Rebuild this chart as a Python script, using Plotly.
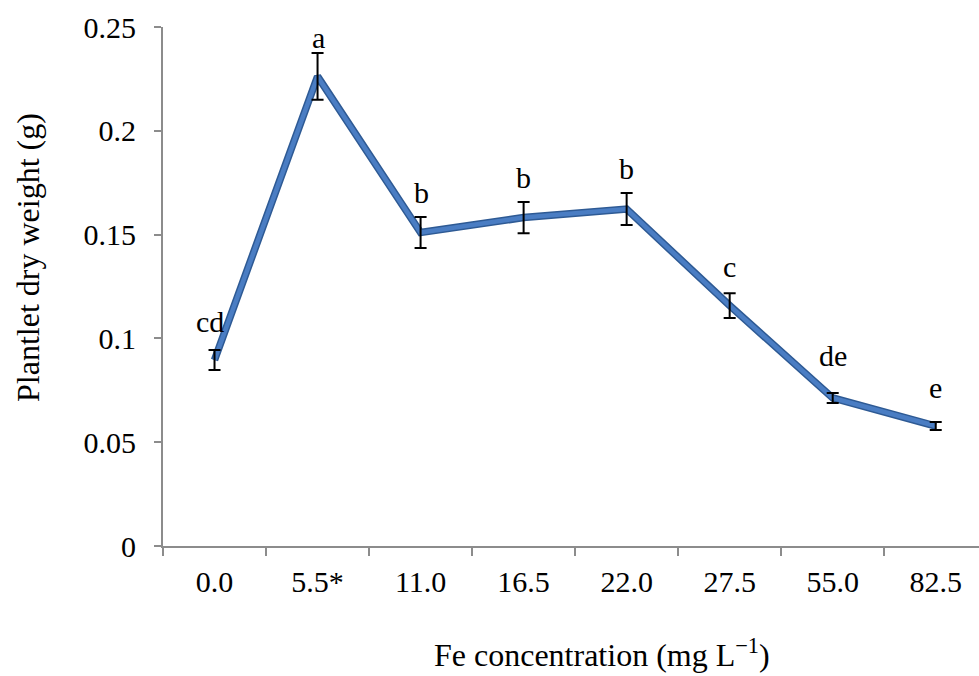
import plotly.graph_objects as go

categories = ["0.0", "5.5*", "11.0", "16.5", "22.0", "27.5", "55.0", "82.5"]
dry_weight = [0.0896, 0.2262, 0.1510, 0.1582, 0.1623, 0.1158, 0.0713, 0.0578]
std_err = [0.0048, 0.0113, 0.0075, 0.0075, 0.0077, 0.0060, 0.0024, 0.0019]
letters = ["cd", "a", "b", "b", "b", "c", "de", "e"]

# styling: pixel gap between error-bar cap and letter baseline
letter_gap_px = [18, 5, 14, 14, 14, 16, 27, 24]
letter_dx_px = [-5, 1, 1, 0, 0, 0, 0, 0]

FONT = "Liberation Serif, Times New Roman, serif"
AXIS_COLOR = "#8c8c8c"
FS = 30
TITLE_FS = 32
DESCENT = 8

fig = go.Figure()
fig.add_trace(go.Scatter(x=categories, y=dry_weight, mode="lines",
                         line=dict(color="#2E5A94", width=7.5), hoverinfo="skip",
                         showlegend=False))
fig.add_trace(go.Scatter(x=categories, y=dry_weight, mode="lines",
                         line=dict(color="#4A7DC3", width=4.5), showlegend=False))
fig.add_trace(go.Scatter(x=categories, y=dry_weight, mode="markers",
                         marker=dict(size=1, color="rgba(0,0,0,0)"),
                         error_y=dict(type="data", array=std_err, visible=True,
                                      color="black", thickness=2, width=6),
                         showlegend=False))

for i, (v, e, t) in enumerate(zip(dry_weight, std_err, letters)):
    fig.add_annotation(x=i, y=v + e, text=t, showarrow=False, yanchor="bottom",
                       xanchor="center", xshift=letter_dx_px[i],
                       yshift=letter_gap_px[i] - DESCENT,
                       font=dict(family=FONT, size=FS, color="black"))

fig.add_annotation(x=0.538, y=-0.2486, xref="paper", yref="paper",
                   xanchor="center", yanchor="bottom",
                   text="Fe concentration (mg L<sup>\u22121</sup>)", showarrow=False,
                   font=dict(family=FONT, size=TITLE_FS, color="black"))
fig.add_annotation(x=-0.1654, y=0.555, xref="paper", yref="paper",
                   xanchor="center", yanchor="middle",
                   text="Plantlet dry weight (g)", textangle=-90, showarrow=False,
                   font=dict(family=FONT, size=TITLE_FS, color="black"))

fig.update_layout(
    width=979, height=676,
    margin=dict(l=163, r=0, t=27, b=130),
    paper_bgcolor="white", plot_bgcolor="white",
    font=dict(family=FONT, size=FS, color="black"),
    xaxis=dict(type="category", range=[-0.5, 7.42], showgrid=False,
               showline=True, linecolor=AXIS_COLOR, linewidth=2,
               ticks="outside", tickson="boundaries", ticklen=8, tickwidth=2,
               tickcolor=AXIS_COLOR, ticklabelstandoff=8, zeroline=False),
    yaxis=dict(range=[0, 0.25], tickvals=[0, 0.05, 0.1, 0.15, 0.2, 0.25],
               ticktext=["0", "0.05", "0.1", "0.15", "0.2", "0.25"],
               showgrid=False, showline=True, linecolor=AXIS_COLOR, linewidth=2,
               ticks="outside", ticklen=7, tickwidth=2, tickcolor=AXIS_COLOR,
               ticklabelstandoff=12, zeroline=False),
)

fig.write_html("out.html")
